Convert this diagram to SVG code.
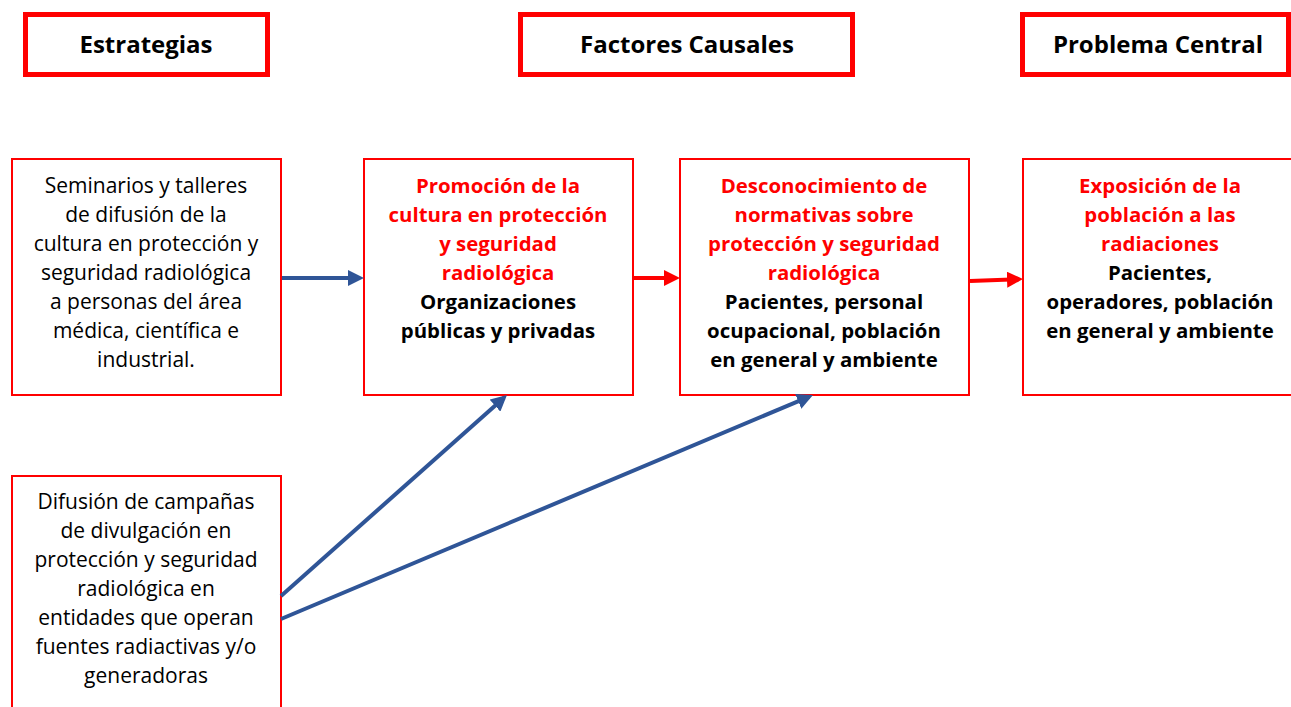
<svg xmlns="http://www.w3.org/2000/svg" width="1291" height="707" viewBox="0 0 1291 707">
<style>
.hdr{fill:#fff;stroke:#ff0000;stroke-width:5}
.box{fill:#fff;stroke:#ff0000;stroke-width:2}
.ht{font-family:"Open Sans","Liberation Sans",sans-serif;font-weight:bold;font-size:24px;fill:#000;text-anchor:middle}
.t{font-family:"Open Sans","Liberation Sans",sans-serif;font-size:21px;fill:#000;text-anchor:middle}
.b{font-weight:bold;font-size:20.4px}
.r{fill:#ff0000}
.blue{stroke:#2F5597;stroke-width:4;fill:none}
.red{stroke:#ff0000;stroke-width:4;fill:none}
</style>
<defs>
<marker id="ab" markerUnits="userSpaceOnUse" markerWidth="16" markerHeight="16" refX="12" refY="8" orient="auto"><path d="M0,0 L16,8 L0,16 z" fill="#2F5597"/></marker>
<marker id="ar" markerUnits="userSpaceOnUse" markerWidth="16" markerHeight="16" refX="12" refY="8" orient="auto"><path d="M0,0 L16,8 L0,16 z" fill="#ff0000"/></marker>
</defs>
<rect width="1291" height="707" fill="#fff"/>
<g id="h-estrategias"><rect class="hdr" x="25.5" y="14.5" width="242" height="60"/><text class="ht" x="146" y="53">Estrategias</text></g>
<g id="h-factores"><rect class="hdr" x="520.5" y="14.5" width="332" height="60"/><text class="ht" x="687" y="53">Factores Causales</text></g>
<g id="h-problema"><rect class="hdr" x="1022.5" y="14.5" width="266" height="60"/><text class="ht" x="1158" y="53">Problema Central</text></g>
<g id="n-seminarios"><rect class="box" x="12" y="159" width="269" height="236"/>
<text class="t" x="146"><tspan x="146" y="193">Seminarios y talleres</tspan><tspan x="146" y="222">de difusión de la</tspan><tspan x="146" y="251">cultura en protección y</tspan><tspan x="146" y="280">seguridad radiológica</tspan><tspan x="146" y="309">a personas del área</tspan><tspan x="146" y="338">médica, científica e</tspan><tspan x="146" y="367">industrial.</tspan></text></g>
<g id="n-promocion"><rect class="box" x="364" y="159" width="269" height="236"/>
<text class="t b" x="498"><tspan class="r" x="498" y="193">Promoción de la</tspan><tspan class="r" x="498" y="222">cultura en protección</tspan><tspan class="r" x="498" y="251">y seguridad</tspan><tspan class="r" x="498" y="280">radiológica</tspan><tspan x="498" y="309">Organizaciones</tspan><tspan x="498" y="338">públicas y privadas</tspan></text></g>
<g id="n-desconocimiento"><rect class="box" x="680" y="159" width="289" height="236"/>
<text class="t b" x="824"><tspan class="r" x="824" y="193">Desconocimiento de</tspan><tspan class="r" x="824" y="222">normativas sobre</tspan><tspan class="r" x="824" y="251">protección y seguridad</tspan><tspan class="r" x="824" y="280">radiológica</tspan><tspan x="824" y="309">Pacientes, personal</tspan><tspan x="824" y="338">ocupacional, población</tspan><tspan x="824" y="367">en general y ambiente</tspan></text></g>
<g id="n-exposicion"><rect class="box" x="1023" y="159" width="290" height="236"/>
<text class="t b" x="1160"><tspan class="r" x="1160" y="193">Exposición de la</tspan><tspan class="r" x="1160" y="222">población a las</tspan><tspan class="r" x="1160" y="251">radiaciones</tspan><tspan x="1160" y="280">Pacientes,</tspan><tspan x="1160" y="309">operadores, población</tspan><tspan x="1160" y="338">en general y ambiente</tspan></text></g>
<g id="n-difusion"><rect class="box" x="12" y="476" width="269" height="250"/>
<text class="t" x="146"><tspan x="146" y="509">Difusión de campañas</tspan><tspan x="146" y="538">de divulgación en</tspan><tspan x="146" y="567">protección y seguridad</tspan><tspan x="146" y="596">radiológica en</tspan><tspan x="146" y="625">entidades que operan</tspan><tspan x="146" y="654">fuentes radiactivas y/o</tspan><tspan x="146" y="683">generadoras</tspan></text></g>
<g id="connectors">
<line class="blue" x1="282" y1="278" x2="360" y2="278" marker-end="url(#ab)"/>
<line class="blue" x1="281" y1="596" x2="504" y2="397.7" marker-end="url(#ab)"/>
<line class="blue" x1="281" y1="619" x2="809.3" y2="396.6" marker-end="url(#ab)"/>
<line class="red" x1="634" y1="278" x2="676" y2="278" marker-end="url(#ar)"/>
<line class="red" x1="970" y1="281" x2="1019" y2="279.2" marker-end="url(#ar)"/>
</g>
</svg>
